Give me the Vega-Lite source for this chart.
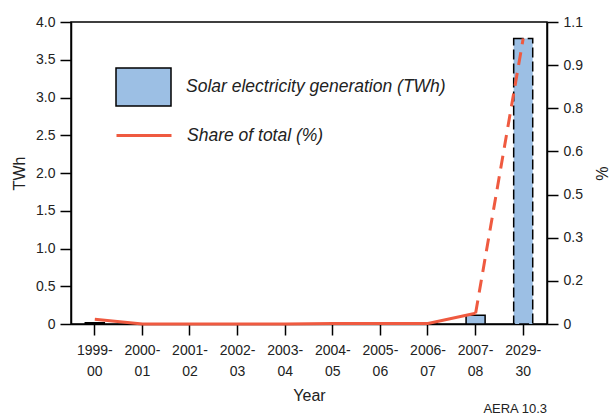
{
  "$schema": "https://vega.github.io/schema/vega-lite/v6.json",
  "width": 476,
  "height": 302,
  "autosize": {"type": "none"},
  "padding": {"left": 71, "top": 22, "right": 64, "bottom": 91},
  "background": "white",
  "title": {"text": "AERA 10.3", "orient": "bottom", "anchor": "end", "frame": "group", "fontSize": 13, "fontWeight": "normal", "color": "#222", "offset": 0},
  "datasets": {
    "bars": [
      {"year": "1999-00", "twh": 0.015, "kind": "actual"},
      {"year": "2000-01", "twh": 0, "kind": "actual"},
      {"year": "2001-02", "twh": 0, "kind": "actual"},
      {"year": "2002-03", "twh": 0, "kind": "actual"},
      {"year": "2003-04", "twh": 0, "kind": "actual"},
      {"year": "2004-05", "twh": 0, "kind": "actual"},
      {"year": "2005-06", "twh": 0, "kind": "actual"},
      {"year": "2006-07", "twh": 0, "kind": "actual"},
      {"year": "2007-08", "twh": 0.115, "kind": "actual"},
      {"year": "2029-30", "twh": 3.78, "kind": "projected"}
    ],
    "share": [
      {"year": "1999-00", "share": 0.017, "segment": "actual"},
      {"year": "2000-01", "share": 0.0, "segment": "actual"},
      {"year": "2001-02", "share": 0.0, "segment": "actual"},
      {"year": "2002-03", "share": 0.0, "segment": "actual"},
      {"year": "2003-04", "share": 0.0, "segment": "actual"},
      {"year": "2004-05", "share": 0.002, "segment": "actual"},
      {"year": "2005-06", "share": 0.002, "segment": "actual"},
      {"year": "2006-07", "share": 0.002, "segment": "actual"},
      {"year": "2007-08", "share": 0.039, "segment": "actual"},
      {"year": "2007-08", "share": 0.039, "segment": "projected"},
      {"year": "2029-30", "share": 1.04, "segment": "projected"}
    ]
  },
  "layer": [
    {
      "data": {"name": "bars"},
      "mark": {"type": "bar", "stroke": "black", "strokeWidth": 1.5},
      "encoding": {
        "x": {
          "field": "year", "type": "nominal",
          "scale": {"domain": ["1999-00","2000-01","2001-02","2002-03","2003-04","2004-05","2005-06","2006-07","2007-08","2029-30"], "paddingInner": 0.6, "paddingOuter": 0.3},
          "axis": {"title": "Year", "labelAngle": 0, "labelExpr": "[slice(datum.label,0,5), slice(datum.label,5)]", "labelLineHeight": 21, "labelPadding": 8, "titlePadding": 9}
        },
        "y": {
          "field": "twh", "type": "quantitative",
          "scale": {"domain": [0, 4], "nice": false},
          "axis": {"title": "TWh", "orient": "left", "values": [0,0.5,1,1.5,2,2.5,3,3.5,4], "labelExpr": "datum.value == 0 ? '0' : format(datum.value, '.1f')", "labelPadding": 5, "titlePadding": 8}
        },
        "fill": {
          "datum": "Solar electricity generation (TWh)",
          "scale": {"range": ["#9CBFE4"]},
          "legend": {"title": null, "orient": "none", "legendX": 44, "legendY": 36.5, "symbolType": "M-1,-0.69H1V0.69H-1Z", "symbolSize": 3025, "symbolStrokeColor": "black", "symbolStrokeWidth": 1.5, "symbolFillColor": "#9CBFE4", "symbolOpacity": 1}
        },
        "strokeDash": {"condition": {"test": "datum.kind == 'projected'", "value": [10, 4]}, "value": [1, 0]}
      }
    },
    {
      "data": {"name": "share"},
      "encoding": {
        "x": {"field": "year", "type": "nominal"},
        "y": {
          "field": "share", "type": "quantitative",
          "scale": {"domain": [0, 1.1], "nice": false},
          "axis": {"title": "%", "orient": "right", "values": [0, 0.157142857, 0.314285714, 0.471428571, 0.628571429, 0.785714286, 0.942857143, 1.1], "labelExpr": "datum.value == 0 ? '0' : format(datum.value, '.1f')", "labelPadding": 5, "titlePadding": 10}
        },
        "stroke": {
          "datum": "Share of total (%)",
          "scale": {"range": ["#EF5A40"]},
          "legend": {"title": null, "orient": "none", "legendX": 44, "legendY": 84.5, "symbolType": "stroke", "symbolSize": 3025, "symbolStrokeWidth": 3}
        }
      },
      "layer": [
        {
          "transform": [{"filter": "datum.segment == 'actual'"}],
          "mark": {"type": "line", "strokeWidth": 3}
        },
        {
          "transform": [{"filter": "datum.segment == 'projected'"}],
          "mark": {"type": "line", "strokeWidth": 3, "strokeDash": [13, 8]}
        }
      ]
    }
  ],
  "resolve": {"scale": {"y": "independent"}, "axis": {"y": "independent"}},
  "config": {
    "font": "Liberation Sans",
    "view": {"stroke": "black", "strokeWidth": 1.5},
    "axis": {
      "grid": false,
      "domainColor": "black", "domainWidth": 1.5,
      "tickColor": "black", "tickWidth": 1.5, "tickSize": 11,
      "labelFont": "Liberation Sans", "labelFontSize": 14, "labelColor": "#222",
      "titleFont": "Liberation Sans", "titleFontSize": 16, "titleFontWeight": "normal", "titleColor": "#222"
    },
    "legend": {
      "padding": 0,
      "labelFont": "Liberation Sans", "labelFontSize": 17.5, "labelFontStyle": "italic", "labelColor": "#222",
      "labelOffset": 14, "labelLimit": 400, "rowPadding": 0
    }
  }
}
